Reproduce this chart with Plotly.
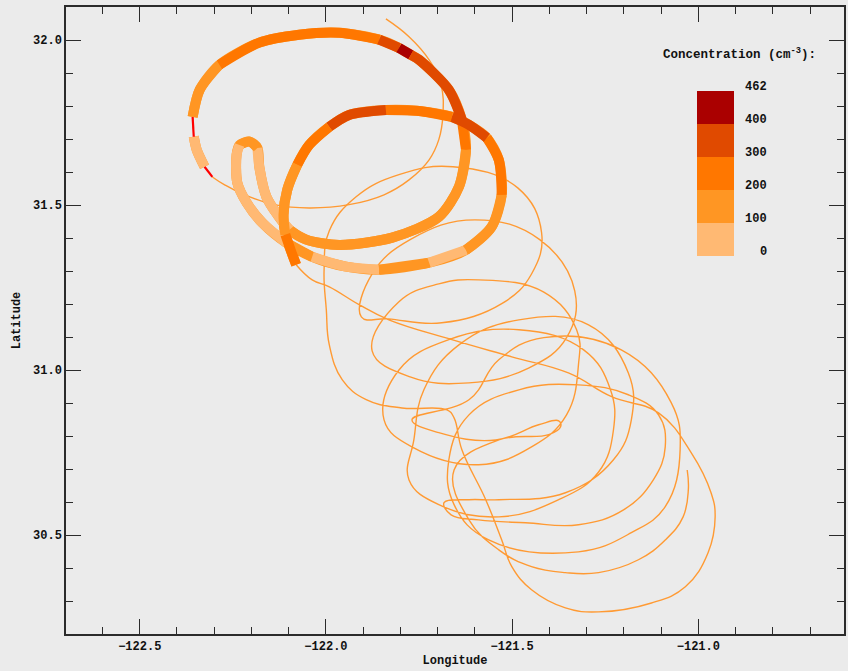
import plotly.graph_objects as go

# ---------------------------------------------------------------------------
# Flight track, leg flown before entering the plume (thin line)
INBOUND_LON = [-121.839, -121.777, -121.723, -121.691, -121.686, -121.697, -121.723,
               -121.777, -121.844, -121.938, -122.045, -122.138, -122.219, -122.272,
               -122.305]
INBOUND_LAT = [32.064, 32.010, 31.940, 31.864, 31.773, 31.698, 31.637,
               31.576, 31.531, 31.501, 31.491, 31.501, 31.531, 31.561,
               31.585]

# In-plume leg with measured particle concentration (cm^-3); -1 = no valid sample
PLUME_LON = [-122.305, -122.326, -122.347, -122.355, -122.358, -122.339, -122.286,
             -122.179, -122.072, -121.964, -121.857, -121.804, -121.772, -121.750,
             -121.670, -121.635, -121.624, -121.643, -121.697, -121.822, -121.964,
             -122.053, -122.098, -122.130, -122.160, -122.179, -122.184, -122.205,
             -122.232, -122.240, -122.238, -122.213, -122.171, -122.106, -122.037,
             -121.946, -121.857, -121.723, -121.624, -121.555, -121.528, -121.536,
             -121.568, -121.616, -121.662, -121.750, -121.839, -121.938, -121.991,
             -122.045, -122.077, -122.104, -122.114, -122.109, -122.093, -122.080]
PLUME_LAT = [31.585, 31.616, 31.667, 31.707, 31.767, 31.849, 31.925,
             31.992, 32.016, 32.022, 32.001, 31.976, 31.955, 31.940,
             31.849, 31.758, 31.667, 31.555, 31.464, 31.401, 31.379,
             31.395, 31.425, 31.470, 31.525, 31.616, 31.673, 31.692,
             31.682, 31.652, 31.567, 31.507, 31.446, 31.385, 31.343,
             31.313, 31.304, 31.325, 31.364, 31.434, 31.531, 31.637,
             31.704, 31.743, 31.767, 31.785, 31.788, 31.773, 31.737,
             31.682, 31.622, 31.546, 31.470, 31.410, 31.358, 31.319]
PLUME_CONC = [-1, 60, 80, -1, 140, 170, 230,
              260, 280, 250, 330, 430, 330, 320,
              310, 240, 170, 150, 160, 150, 170,
              140, 90, 60, 70, 50, 110, 120,
              80, 60, 50, 60, 80, 130, 70,
              60, 130, 70, 140, 160, 230, 260,
              330, 320, 280, 250, 310, 320, 260,
              210, 150, 160, 140, 250, 240, 240]

# Leg flown after leaving the plume (thin line)
OUTBOUND_LON = [-122.080, -122.037, -121.991, -121.911, -121.831, -121.662, -121.501,
                -121.349, -121.233, -121.107, -121.019, -120.966, -120.955, -120.974,
                -121.035, -121.126, -121.268, -121.357, -121.448, -121.501, -121.528,
                -121.571, -121.635, -121.656, -121.675, -121.796, -121.892, -121.956,
                -121.991, -121.999, -122.005, -121.991, -121.919, -121.804, -121.659,
                -121.485, -121.421, -121.448, -121.528, -121.689, -121.833, -121.905,
                -121.876, -121.774, -121.600, -121.426, -121.332, -121.354, -121.456,
                -121.616, -121.774, -121.876, -121.804, -121.697, -121.590, -121.415,
                -121.327, -121.322, -121.354, -121.448, -121.590, -121.764, -121.844,
                -121.804, -121.670, -121.482, -121.308, -121.236, -121.228, -121.268,
                -121.375, -121.536, -121.697, -121.777, -121.764, -121.737, -121.643,
                -121.482, -121.295, -121.188, -121.180, -121.228, -121.357, -121.536,
                -121.616, -121.683, -121.664, -121.590, -121.464, -121.322, -121.201,
                -121.121, -121.089, -121.107, -121.188, -121.322, -121.482, -121.616,
                -121.670, -121.656, -121.563, -121.322, -121.180, -121.089, -121.049,
                -121.073, -121.207, -121.415, -121.536, -121.616, -121.769, -121.697,
                -121.544, -121.429, -121.375, -121.370, -121.402, -121.536, -121.656,
                -121.616, -121.536, -121.448, -121.357, -121.268, -121.161, -121.089,
                -121.041, -121.027, -121.030]
OUTBOUND_LAT = [31.319, 31.273, 31.252, 31.198, 31.152, 31.092, 31.040,
                30.991, 30.919, 30.870, 30.749, 30.628, 30.555, 30.446,
                30.343, 30.294, 30.267, 30.279, 30.334, 30.404, 30.485,
                30.607, 30.758, 30.855, 30.879, 30.885, 30.910, 30.970,
                31.076, 31.182, 31.304, 31.422, 31.525, 31.592, 31.616,
                31.552, 31.416, 31.291, 31.201, 31.143, 31.155, 31.161,
                31.291, 31.395, 31.455, 31.395, 31.240, 31.098, 31.006,
                30.961, 30.979, 31.058, 31.207, 31.261, 31.273, 31.236,
                31.122, 31.016, 30.864, 30.767, 30.713, 30.764, 30.849,
                31.000, 31.092, 31.122, 31.061, 30.940, 30.819, 30.691,
                30.607, 30.555, 30.592, 30.667, 30.788, 30.940, 31.076,
                31.152, 31.137, 30.991, 30.849, 30.728, 30.628, 30.607,
                30.607, 30.598, 30.561, 30.546, 30.537, 30.531, 30.576,
                30.667, 30.767, 30.864, 30.925, 30.955, 30.940, 30.864,
                30.728, 30.592, 30.485, 30.449, 30.507, 30.586, 30.758,
                30.901, 31.061, 31.098, 31.031, 30.910, 30.849, 30.810,
                30.788, 30.834, 30.846, 30.828, 30.804, 30.788, 30.697,
                30.546, 30.455, 30.404, 30.386, 30.386, 30.425, 30.485,
                30.555, 30.637, 30.697]

# Colour classes of the concentration scale
CONC_EDGES = [0, 100, 200, 300, 400, 462]
BIN_COLORS = ["#ffb973", "#ff9623", "#ff7700", "#e04a00", "#aa0000"]
TRACK_COLOR = "#ff9a33"
NODATA_COLOR = "#ff0000"

BG = "#ebebeb"
INK = "#111111"
AXIS = "#2b2b2b"
FONT = "Liberation Mono"


def conc_bin(v):
    """Index of the colour class holding value v (None for missing samples)."""
    if v < 0:
        return None
    for k in range(len(CONC_EDGES) - 1):
        if v < CONC_EDGES[k + 1]:
            return k
    return len(CONC_EDGES) - 2


fig = go.Figure()

# Thin track: inbound and outbound legs
for lon, lat in ((INBOUND_LON, INBOUND_LAT), (OUTBOUND_LON, OUTBOUND_LAT)):
    fig.add_trace(go.Scatter(
        x=lon, y=lat, mode="lines",
        line=dict(color=TRACK_COLOR, width=1.4, shape="spline", smoothing=1.2),
        hoverinfo="skip"))

# Thick in-plume leg: a continuous base band broken only where samples are missing
base_x, base_y = [], []
for i in range(len(PLUME_LON)):
    base_x.append(PLUME_LON[i])
    base_y.append(PLUME_LAT[i])
    if i < len(PLUME_LON) - 1 and PLUME_CONC[i] < 0:
        base_x.append(None)
        base_y.append(None)
fig.add_trace(go.Scatter(
    x=base_x, y=base_y, mode="lines",
    line=dict(color=BIN_COLORS[1], width=10, shape="spline", smoothing=0.8),
    hoverinfo="skip"))

# Colour the band by concentration class, one trace per run of equal class
runs = []
for i in range(len(PLUME_LON) - 1):
    b = conc_bin(PLUME_CONC[i])
    if runs and runs[-1][0] == b:
        runs[-1][2] = i + 1
    else:
        runs.append([b, i, i + 1])
for b, s, e in runs:
    xs = PLUME_LON[s:e + 1]
    ys = PLUME_LAT[s:e + 1]
    if b is None:
        line = dict(color=NODATA_COLOR, width=2.2)
    else:
        line = dict(color=BIN_COLORS[b], width=10, shape="spline", smoothing=0.8)
    fig.add_trace(go.Scatter(x=xs, y=ys, mode="lines", line=line, hoverinfo="skip"))

# Discrete colour bar (equal-height classes)
n_cls = len(BIN_COLORS)
cscale = []
for k, c in enumerate(BIN_COLORS):
    cscale.append([k / n_cls, c])
    cscale.append([(k + 1) / n_cls, c])

CB_X, CB_Y, CB_LEN = 0.8115, 0.603, 0.263
fig.add_trace(go.Scatter(
    x=[None], y=[None], mode="markers",
    marker=dict(color=[0], cmin=0, cmax=n_cls, colorscale=cscale, showscale=True,
                colorbar=dict(x=CB_X, xanchor="left", y=CB_Y, yanchor="bottom",
                              len=CB_LEN, lenmode="fraction",
                              thickness=37, thicknessmode="pixels",
                              outlinewidth=0, xpad=0, ypad=0,
                              showticklabels=False, ticks="")),
    hoverinfo="skip"))

annotations = []
for k, edge in enumerate(CONC_EDGES):
    annotations.append(dict(
        x=0.904, y=CB_Y + CB_LEN * k / n_cls + 0.006, xref="paper", yref="paper",
        xanchor="right", yanchor="middle", showarrow=False, text=str(edge),
        font=dict(family=FONT, size=12, color=INK, weight="bold")))
annotations.append(dict(
    x=0.866, y=0.925, xref="paper", yref="paper", xanchor="center", yanchor="middle",
    showarrow=False, text="Concentration (cm<sup>-3</sup>):",
    font=dict(family=FONT, size=12.5, color=INK, weight="bold")))

axis_common = dict(
    showgrid=False, zeroline=False, showline=True, linecolor=AXIS, linewidth=1.5,
    mirror="allticks", ticks="inside", ticklen=15, tickwidth=1.2, tickcolor=AXIS,
    tickformat=".1f", dtick=0.5,
    tickfont=dict(family=FONT, size=12, color=INK, weight="bold"),
    minor=dict(dtick=0.1, ticks="inside", ticklen=7, tickwidth=1.2, tickcolor=AXIS),
)

fig.update_layout(
    width=848, height=671,
    margin=dict(l=66, r=2, t=7, b=37),
    paper_bgcolor=BG, plot_bgcolor=BG,
    showlegend=False,
    font=dict(family=FONT, size=12, color=INK, weight="bold"),
    xaxis=dict(range=[-122.698, -120.609], tick0=-122.5,
               title=dict(text="Longitude", standoff=2,
                          font=dict(family=FONT, size=12, color=INK, weight="bold")),
               **axis_common),
    yaxis=dict(range=[30.2, 32.1], tick0=30.5,
               title=dict(text="Latitude", standoff=10,
                          font=dict(family=FONT, size=12, color=INK, weight="bold")),
               **axis_common),
    annotations=annotations,
)

fig.write_html("out.html")
